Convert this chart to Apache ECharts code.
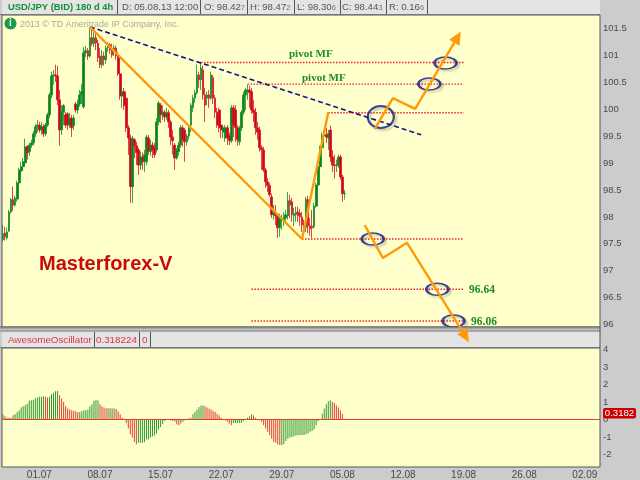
<!DOCTYPE html>
<html>
<head>
<meta charset="utf-8">
<style>html,body{margin:0;padding:0;background:#ccc}#c{width:640px;height:480px}</style>
<script src="https://cdn.jsdelivr.net/npm/echarts@6/dist/echarts.min.js"></script>
</head>
<body>
<div id="c"></div>
<script>
// Weekly tick labels on the shared time axis (one label every 30 four-hour bars)
const tickLabels = ['01.07','08.07','15.07','22.07','29.07','05.08','12.08','19.08','26.08','02.09'];
const priceTicks = [96,96.5,97,97.5,98,98.5,99,99.5,100,100.5,101,101.5];
const aoTicks = [-2,-1,0,1,2,3,4];
// 4h candles: [open, close, low, high]
const ohlc = [
[97.58,97.69,97.54,97.85],[97.70,97.63,97.56,97.82],[97.61,97.72,97.58,97.80],[97.74,98.09,97.72,98.13],[98.09,98.32,98.06,98.35],
[98.32,98.22,98.11,98.56],[98.22,98.35,98.19,98.39],[98.33,98.63,98.28,98.67],[98.63,98.87,98.58,98.91],[98.85,98.93,98.78,99.02],
[98.93,99.02,98.87,99.09],[99.00,99.30,98.96,99.45],[99.30,99.19,99.06,99.33],[99.21,99.33,99.13,99.37],[99.33,99.37,99.28,99.43],
[99.37,99.54,99.32,99.59],[99.54,99.67,99.48,99.72],[99.67,99.70,99.57,99.80],[99.70,99.61,99.56,99.76],[99.61,99.67,99.52,99.76],
[99.67,99.54,99.48,99.72],[99.54,99.70,99.50,99.74],[99.70,99.89,99.67,99.93],[99.89,100.26,99.83,100.30],[100.26,100.61,100.20,100.69],
[100.61,100.63,100.45,100.72],[100.63,100.61,100.50,100.82],[100.61,100.17,100.07,100.80],[100.17,99.61,99.32,100.35],[99.61,99.94,99.52,100.07],
[99.94,100.06,99.70,100.09],[99.89,99.70,99.65,99.94],[99.91,99.70,99.61,99.94],[99.70,99.83,99.65,99.93],[99.83,99.65,99.48,99.89],
[99.69,99.83,99.61,99.89],[100.09,99.98,99.93,100.13],[99.98,100.09,99.91,100.17],[100.09,100.26,100.04,100.35],[100.26,100.32,100.09,100.46],
[100.04,101.04,100.00,101.15],[101.04,101.08,100.96,101.17],[101.08,100.98,100.91,101.13],[100.98,101.32,100.95,101.50],[101.32,101.21,101.17,101.48],
[101.21,101.32,101.15,101.43],[101.32,101.22,101.09,101.39],[101.22,100.95,100.87,101.28],[100.98,100.82,100.76,101.13],[100.82,100.98,100.76,101.09],
[100.98,100.91,100.80,101.06],[100.91,101.13,100.83,101.17],[101.13,101.19,101.06,101.24],[101.19,101.09,101.02,101.22],[101.09,101.00,100.95,101.21],
[101.06,101.13,100.98,101.19],[101.13,100.98,100.91,101.17],[100.98,100.65,100.61,101.06],[100.65,100.24,100.17,100.69],[100.24,100.32,100.02,100.45],
[100.32,100.06,99.98,100.39],[100.20,99.65,99.57,100.26],[99.65,99.46,99.15,99.70],[99.46,98.56,98.26,99.52],[98.56,99.45,98.26,99.50],
[99.43,99.32,99.09,99.46],[99.32,99.19,98.96,99.39],[99.24,98.96,98.78,99.28],[98.96,99.11,98.87,99.21],[99.11,99.02,98.87,99.19],
[99.02,99.15,98.83,99.24],[99.02,99.48,98.96,99.52],[99.46,99.21,99.15,99.52],[99.21,99.33,99.13,99.43],[99.33,99.24,99.09,99.39],
[99.28,99.15,99.09,99.37],[99.24,99.76,99.19,99.83],[99.76,100.11,99.70,100.15],[100.07,99.89,99.74,100.11],[99.89,99.94,99.80,100.07],
[99.94,99.85,99.76,99.98],[99.85,99.93,99.80,100.02],[99.93,99.76,99.65,99.98],[99.76,99.48,99.33,99.80],[99.48,99.41,99.15,99.61],
[99.33,99.09,98.87,99.37],[99.09,99.24,99.06,99.28],[99.21,99.33,99.13,99.39],[99.33,99.65,99.28,99.70],[99.65,99.43,99.30,99.70],
[99.61,99.39,99.02,99.65],[99.39,99.50,99.32,99.54],[99.50,99.65,99.43,99.70],[99.70,100.07,99.57,100.11],[100.02,100.20,99.94,100.26],
[100.20,100.30,100.11,100.35],[100.30,100.63,100.26,100.82],[100.63,100.54,100.39,100.69],[100.54,100.76,100.35,100.87],[100.72,100.26,100.17,100.80],
[100.26,100.07,99.76,100.39],[100.20,100.26,100.07,100.32],[100.26,100.20,100.02,100.35],[100.20,100.63,100.17,100.69],[100.58,100.20,100.09,100.63],
[100.20,99.94,99.83,100.26],[99.94,99.70,99.65,100.02],[99.98,99.65,99.57,100.02],[99.70,99.61,99.46,99.80],[99.57,99.65,99.46,99.70],
[99.46,99.65,99.39,99.70],[99.65,99.46,99.33,99.70],[99.50,99.41,99.33,99.56],[99.41,100.02,99.37,100.07],[100.02,99.70,99.48,100.07],
[99.98,99.65,99.39,100.07],[99.65,99.43,99.32,99.70],[99.39,99.65,99.33,99.69],[99.65,99.94,99.59,99.98],[99.94,100.26,99.89,100.32],
[100.26,100.35,99.98,100.39],[100.32,100.35,100.17,100.45],[100.35,100.30,100.02,100.43],[100.32,99.98,99.91,100.39],[99.98,99.93,99.76,100.17],
[99.94,99.65,99.52,100.02],[99.65,99.57,99.43,99.76],[99.61,99.28,99.21,99.67],[99.28,99.24,98.87,99.33],[99.24,98.87,98.83,99.30],
[98.87,98.65,98.54,98.91],[98.65,98.58,98.46,98.72],[98.58,98.41,98.37,98.63],[98.37,98.04,97.98,98.43],[98.04,98.09,97.95,98.22],
[98.09,98.02,97.85,98.22],[98.02,97.80,97.61,98.06],[97.80,97.98,97.63,98.06],[97.93,97.96,97.76,98.04],[97.95,97.98,97.83,98.09],
[97.98,98.04,97.91,98.13],[98.02,98.30,97.95,98.46],[98.30,98.22,97.98,98.41],[98.28,98.04,97.91,98.35],[98.02,98.06,97.83,98.17],
[98.04,98.09,97.91,98.19],[98.09,98.02,97.91,98.19],[98.07,98.00,97.83,98.15],[98.00,97.85,97.72,98.09],[97.87,97.76,97.67,97.95],
[97.80,98.32,97.72,98.37],[98.32,97.83,97.70,98.39],[97.83,97.78,97.65,97.98],[97.83,97.80,97.61,98.13],[97.82,98.20,97.78,98.26],
[98.20,98.59,98.17,98.63],[98.59,98.93,98.50,98.96],[98.93,99.28,98.87,99.32],[99.28,99.50,99.21,99.56],[99.50,99.52,99.39,99.61],
[99.52,99.48,99.37,99.65],[99.46,99.54,99.24,99.61],[99.61,99.11,99.02,99.69],[99.11,98.96,98.83,99.24],[98.96,98.95,98.71,99.15],
[98.95,98.96,98.83,99.06],[98.95,99.11,98.91,99.15],[99.11,98.74,98.69,99.15],[98.74,98.43,98.28,98.78],[98.43,98.44,98.32,98.50]
];
// Awesome Oscillator histogram
const aoValues = [
.30,.19,.11,.11,.11,.25,.30,.44,.53,.69,.76,.82,.91,1.07,1.10,1.14,1.22,1.26,1.30,1.30,1.33,1.30,1.26,1.30,1.45,1.52,1.62,1.64,1.39,1.20,1.01,.76,.63,.57,.53,.50,.48,.44,.44,.48,.53,.53,.57,.76,.88,1.07,1.10,1.10,.88,.76,.69,.65,.65,.65,.63,.63,.61,.46,.30,.11,.02,
-.19,-.51,-.84,-1.03,-1.28,-1.41,-1.33,-1.33,-1.33,-1.30,-1.14,-1.14,-1.03,-.95,-.91,-.80,-.57,-.42,-.27,-.08,.04,-.02,-.04,-.08,-.13,-.27,-.32,-.23,-.13,-.04,.01,.08,.11,.30,.44,.57,.72,.80,.80,.76,.69,.63,.57,.50,.44,.34,.25,.11,.01,
-.04,-.13,-.23,-.32,-.19,-.19,-.19,-.19,-.19,-.08,0,.11,.19,.29,.25,.11,.01,-.04,-.13,-.32,-.51,-.70,-.90,-1.09,-1.28,-1.33,-1.41,-1.45,-1.45,-1.41,-1.22,-1.09,-1.03,-.99,-.95,-.91,-.90,-.88,-.88,-.88,-.84,-.80,-.70,-.65,-.55,-.32,-.08,-.01,
.34,.63,.88,1.05,1.10,1.01,.95,.82,.69,.53,.34
];
// Drawn studies, as [bar index, price]
const blueTrend = [[43,101.52],[207,99.52]];
const orangeSwing = [[43,101.52],[148,97.59],[161,99.94]];
const upForecast = [[184,99.63],[193,100.20],[204,100.00],[225,101.33]];
const downForecast = [[179,97.85],[188,97.24],[200,97.52],[229,95.78]];
const levels = [
  [[98,100.86],[228,100.86]],
  [[121,100.46],[228,100.46]],
  [[161,99.93],[228,99.93]],
  [[148,97.59],[228,97.59]],
  [[123,96.66],[228,96.66]],
  [[123,96.07],[228,96.07]]
];
// Ellipses: [bar index, price, width, height]
const ellipses = [[187,99.85,26,22],[219,100.85,22,12],[211,100.46,22,12],[183,97.59,22,12],[215,96.66,22,12],[223,96.07,22,12]];

const BAR_COUNT = 296;
const categories = new Array(BAR_COUNT).fill('');
tickLabels.forEach((t, k) => { categories[18 + 30 * k] = t; });

const FONT = '"Liberation Sans", Arial, sans-serif';
const LABEL = '#4a4a4a';
const GREEN = '#0a8412';
const RED = '#d0001a';
const ORANGE = '#ff9a0a';
const NAVY = '#14148c';
const GL = 2, GR = 600;

function headerCell(x0, x1, y0, y1) {
  return {type:'line', z:50, shape:{x1:x1, y1:y0, x2:x1, y2:y1}, style:{stroke:'#555', lineWidth:1}};
}
function txt(x, y, text, fill, size) {
  return {type:'text', z:55, x:x, y:y, style:{text:text, fill:fill, font:size+'px '+FONT, textVerticalAlign:'middle'}};
}
function digits(x, y, main, tail) {
  return {type:'text', z:55, x:x, y:y, style:{
    text:'{a|'+main+'}{b|'+tail+'}', textVerticalAlign:'middle',
    rich:{a:{fill:'#555', font:'9.6px '+FONT}, b:{fill:'#777', font:'7.5px '+FONT}}
  }};
}
const graphicEls = [
  // top header
  {type:'rect', z:50, shape:{x:0,y:0,width:640,height:15}, style:{fill:'#cccccc'}},
  {type:'rect', z:50, shape:{x:2,y:0,width:GR-2,height:14}, style:{fill:'#e4e4e4'}},
  {type:'line', z:50, shape:{x1:0,y1:14.5,x2:GR,y2:14.5}, style:{stroke:'#777',lineWidth:1}},
  headerCell(0,117.5,0,14),headerCell(0,200.5,0,14),headerCell(0,247.5,0,14),headerCell(0,294.5,0,14),headerCell(0,340.5,0,14),headerCell(0,386.5,0,14),headerCell(0,427.5,0,14),
  {type:'text', z:55, x:8, y:7, style:{text:'USD/JPY (BID) 180 d 4h', fill:'#10903a', font:'bold 9.4px '+FONT, textVerticalAlign:'middle'}},
  digits(122,7.5,'D: 05.08.13 12:00',''),
  digits(204,7.5,'O: 98.42','7'),
  digits(250,7.5,'H: 98.47','2'),
  digits(297,7.5,'L: 98.30','6'),
  digits(342,7.5,'C: 98.44','3'),
  digits(389,7.5,'R: 0.16','6'),
  // separator between the panels
  {type:'rect', z:50, shape:{x:0,y:327,width:GR+1,height:5}, style:{fill:'#a6a6a6'}},
  {type:'line', z:50, shape:{x1:0,y1:329.5,x2:GR,y2:329.5}, style:{stroke:'#d0d0d0',lineWidth:1,lineDash:[1,1]}},
  {type:'line', z:50, shape:{x1:0,y1:327,x2:GR,y2:327}, style:{stroke:'#666',lineWidth:1}},
  {type:'rect', z:50, shape:{x:2,y:332,width:GR-2,height:15}, style:{fill:'#e4e4e4'}},
  {type:'line', z:50, shape:{x1:0,y1:347.5,x2:GR,y2:347.5}, style:{stroke:'#777',lineWidth:1}},
  {type:'rect', z:50, shape:{x:GR+0.5,y:327,width:39,height:16}, style:{fill:'#cccccc'}},
  {type:'line', z:50, shape:{x1:GR,y1:327,x2:GR,y2:348}, style:{stroke:'#555',lineWidth:1}},
  headerCell(0,94.5,332,347),headerCell(0,139.5,332,347),headerCell(0,150.5,332,347),
  txt(8,340,'AwesomeOscillator','#e2304a',9.8),
  txt(96,340,'0.318224','#e2304a',9.8),
  txt(142,340,'0','#e2304a',9.8),
  // copyright
  {type:'circle', z:55, shape:{cx:10.5,cy:23.5,r:6}, style:{fill:'#1a9a4a'}},
  {type:'text', z:56, x:10.5, y:23.5, style:{text:'i', fill:'#fff', font:'bold 10px '+FONT, textAlign:'center', textVerticalAlign:'middle'}},
  txt(20,25,'2013 © TD Ameritrade IP Company, Inc.','#a8a8a0',8.9),
  // annotations
  {type:'text', z:55, x:289, y:54, style:{text:'pivot MF', fill:'#1c8c2a', font:'bold 11px "Liberation Serif", serif', textVerticalAlign:'middle'}},
  {type:'text', z:55, x:302, y:78, style:{text:'pivot MF', fill:'#1c8c2a', font:'bold 11px "Liberation Serif", serif', textVerticalAlign:'middle'}},
  {type:'text', z:55, x:469, y:290, style:{text:'96.64', fill:'#1c8c2a', font:'bold 11.5px "Liberation Serif", serif', textVerticalAlign:'middle'}},
  {type:'text', z:55, x:471, y:322, style:{text:'96.06', fill:'#1c8c2a', font:'bold 11.5px "Liberation Serif", serif', textVerticalAlign:'middle'}},
  {type:'text', z:55, x:39, y:264, style:{text:'Masterforex-V', fill:'#c80a0a', font:'bold 20px '+FONT, textVerticalAlign:'middle'}},
  // last-value tag
  {type:'rect', z:55, shape:{x:603,y:408,width:33,height:10.5,r:2}, style:{fill:'#cc0000'}},
  {type:'text', z:56, x:619.5, y:413.5, style:{text:'0.3182', fill:'#fff', font:'9.6px '+FONT, textAlign:'center', textVerticalAlign:'middle'}}
];

const levelSeries = levels.map(l => ({
  type:'line', xAxisIndex:0, yAxisIndex:0, data:l, symbol:'none', silent:true, z:3,
  lineStyle:{color:'#e8203a', width:1.4, type:[1.5,1.5]}
}));
function arrowData(pts, rotate) {
  return pts.map((p,i) => i === pts.length-1
    ? {value:p, symbol:'triangle', symbolSize:[12,13], symbolRotate:rotate, itemStyle:{color:ORANGE}}
    : {value:p, symbol:'none'});
}

const chart = echarts.init(document.getElementById('c'), null, {renderer:'canvas'});
chart.setOption({
  animation:false,
  backgroundColor:'#cccccc',
  grid:[
    {left:GL, right:640-GR, top:15, height:312, show:true, backgroundColor:'#ffffcc', borderColor:'#555', borderWidth:1},
    {left:GL, right:640-GR, top:348, height:119, show:true, backgroundColor:'#ffffcc', borderColor:'#555', borderWidth:1}
  ],
  xAxis:[
    {type:'category', gridIndex:0, data:categories, boundaryGap:true, axisLine:{show:false}, axisTick:{show:false}, axisLabel:{show:false}, splitLine:{show:false}},
    {type:'category', gridIndex:1, data:categories, boundaryGap:true, position:'bottom',
     axisLine:{show:false, onZero:false}, axisTick:{show:false}, splitLine:{show:false},
     axisLabel:{show:true, interval:0, color:LABEL, fontFamily:FONT, fontSize:10, margin:3, hideOverlap:false}}
  ],
  yAxis:[
    {type:'value', gridIndex:0, position:'right', min:95.96, max:101.74, splitLine:{show:false},
     axisLine:{show:false}, axisTick:{show:false},
     axisLabel:{customValues:priceTicks, color:LABEL, fontFamily:FONT, fontSize:9.5, margin:3, showMinLabel:true, showMaxLabel:true}},
    {type:'value', gridIndex:1, position:'right', min:-2.71, max:4.09, splitLine:{show:false},
     axisLine:{show:false}, axisTick:{show:false},
     axisLabel:{customValues:aoTicks, color:LABEL, fontFamily:FONT, fontSize:9.5, margin:3}}
  ],
  graphic:{elements:graphicEls},
  series:[
    {type:'candlestick', xAxisIndex:0, yAxisIndex:0, data:ohlc, barWidth:2.2, z:2, silent:true,
     itemStyle:{color:GREEN, color0:RED, borderColor:'rgba(20,140,40,0.8)', borderColor0:'rgba(215,20,40,0.8)', borderWidth:1}},
    ...levelSeries,
    {type:'line', xAxisIndex:0, yAxisIndex:0, data:blueTrend, symbol:'none', silent:true, z:4,
     lineStyle:{color:NAVY, width:1.6, type:[5,3]}},
    {type:'line', xAxisIndex:0, yAxisIndex:0, data:orangeSwing, symbol:'none', silent:true, z:5,
     lineStyle:{color:ORANGE, width:2.4}},
    {type:'scatter', xAxisIndex:0, yAxisIndex:0, silent:true, z:6,
     data:ellipses.map(e => ({value:[e[0],e[1]], symbolSize:[e[2],e[3]]})),
     symbol:'circle',
     itemStyle:{color:'rgba(0,0,0,0)', borderColor:NAVY, borderWidth:2, shadowColor:'rgba(110,110,70,0.45)', shadowBlur:2, shadowOffsetX:2, shadowOffsetY:2}},
    {type:'line', xAxisIndex:0, yAxisIndex:0, data:arrowData(upForecast,-30), showSymbol:true, showAllSymbol:true, clip:false, silent:true, z:60,
     lineStyle:{color:ORANGE, width:2.4}},
    {type:'line', xAxisIndex:0, yAxisIndex:0, data:arrowData(downForecast,-149), showSymbol:true, showAllSymbol:true, clip:false, silent:true, z:60,
     lineStyle:{color:ORANGE, width:2.4}},
    {type:'bar', xAxisIndex:1, yAxisIndex:1, silent:true, barWidth:1, z:2,
     data:aoValues.map((v,i) => ({value:v, itemStyle:{color: (i === 0 || v >= aoValues[i-1]) ? '#2f9a32' : '#e0403a'}})),
     markLine:{silent:true, symbol:'none', label:{show:false}, lineStyle:{color:'#ee3a2a', width:1, type:'solid'}, data:[{yAxis:0}]}}
  ]
});
</script>
</body>
</html>
